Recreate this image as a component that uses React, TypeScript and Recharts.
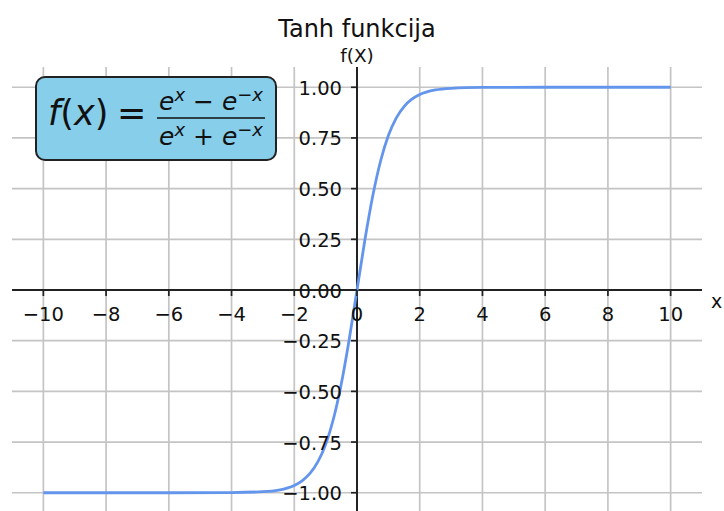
import React from 'react';
import { LineChart, Line, XAxis, YAxis, ReferenceLine, ReferenceDot } from 'recharts';

const xValues = [-10, -8, -6, -4, -3, -2.5, -2, -1.75, -1.5, -1.25, -1, -0.75, -0.5, -0.25, 0, 0.25, 0.5, 0.75, 1, 1.25, 1.5, 1.75, 2, 2.5, 3, 4, 6, 8, 10];
const yValues = [-1.0, -1.0, -1.0, -0.999, -0.995, -0.987, -0.964, -0.941, -0.905, -0.848, -0.762, -0.635, -0.462, -0.245, 0, 0.245, 0.462, 0.635, 0.762, 0.848, 0.905, 0.941, 0.964, 0.987, 0.995, 0.999, 1.0, 1.0, 1.0];

const xTicks = [-10, -8, -6, -4, -2, 0, 2, 4, 6, 8, 10];
const xTickLabels = ['−10', '−8', '−6', '−4', '−2', '0', '2', '4', '6', '8', '10'];
const yTicks = [-1, -0.75, -0.5, -0.25, 0, 0.25, 0.5, 0.75, 1];
const yTickLabels = ['−1.00', '−0.75', '−0.50', '−0.25', '0.00', '0.25', '0.50', '0.75', '1.00'];

const titleText = 'Tanh funkcija';
const yAxisLabel = 'f(X)';
const xAxisLabel = 'x';

const data = xValues.map((x, i) => ({ x, y: yValues[i] }));

const FONT = '"DejaVu Sans", sans-serif';
const TEXT_COLOR = '#111';
const SPINE = '#222';
const GRID = '#c4c4c4';

export default function App() {
  return (
    <div style={{ position: 'absolute', left: 0, top: 0, width: 724, height: 511, overflow: 'hidden', background: '#fff' }}>
      <LineChart width={724} height={520} data={data} margin={{ top: 67, right: 22, bottom: 7, left: 12 }}>
        <XAxis type="number" dataKey="x" domain={[-11, 11]} ticks={xTicks} hide />
        <YAxis type="number" domain={[-1.1, 1.1]} ticks={yTicks} hide />
        {xTicks.map((v) => (
          <ReferenceLine key={'gx' + v} x={v} stroke={GRID} strokeWidth={1.7} />
        ))}
        {yTicks.map((v) => (
          <ReferenceLine key={'gy' + v} y={v} stroke={GRID} strokeWidth={1.7} />
        ))}
        <ReferenceLine y={0} stroke={SPINE} strokeWidth={2} />
        <ReferenceLine x={0} stroke={SPINE} strokeWidth={2} />
        {xTicks.map((v, i) => (
          <ReferenceDot
            key={'xt' + v}
            x={v}
            y={0}
            r={0}
            shape={(p: any) => (
              <g>
                <line x1={p.cx} x2={p.cx} y1={p.cy} y2={p.cy + 6} stroke={SPINE} strokeWidth={1.7} />
                <text x={p.cx} y={p.cy + 31} textAnchor="middle" fontFamily={FONT} fontSize={19.5} fill={TEXT_COLOR}>
                  {xTickLabels[i]}
                </text>
              </g>
            )}
          />
        ))}
        {yTicks.map((v, i) => (
          <ReferenceDot
            key={'yt' + v}
            x={0}
            y={v}
            r={0}
            shape={(p: any) => (
              <g>
                <line x1={p.cx - 6} x2={p.cx} y1={p.cy} y2={p.cy} stroke={SPINE} strokeWidth={1.7} />
                <text x={p.cx - 15} y={p.cy + 7.5} textAnchor="end" fontFamily={FONT} fontSize={19.5} fill={TEXT_COLOR}>
                  {yTickLabels[i]}
                </text>
              </g>
            )}
          />
        ))}
        <ReferenceDot
          x={0}
          y={1.1}
          r={0}
          shape={(p: any) => (
            <text x={p.cx} y={p.cy - 5} textAnchor="middle" fontFamily={FONT} fontSize={18.5} fill={TEXT_COLOR}>
              {yAxisLabel}
            </text>
          )}
        />
        <ReferenceDot
          x={11}
          y={0}
          r={0}
          shape={(p: any) => (
            <text x={p.cx + 9} y={p.cy + 18} textAnchor="start" fontFamily={FONT} fontSize={19} fill={TEXT_COLOR}>
              {xAxisLabel}
            </text>
          )}
        />
        <Line type="monotone" dataKey="y" stroke="#6495ED" strokeWidth={2.8} dot={false} isAnimationActive={false} />
      </LineChart>
      <svg width={724} height={511} style={{ position: 'absolute', left: 0, top: 0, pointerEvents: 'none' }}>
        <text x={357} y={37} textAnchor="middle" fontFamily={FONT} fontSize={24} fill={TEXT_COLOR}>
          {titleText}
        </text>
        <rect x={36} y={77} width={240} height={83} rx={9} ry={9} fill="#87CEEB" stroke="#222" strokeWidth={2} />
        <text x={48} y={125} fontFamily={FONT} fontSize={35} fill="#111">
          <tspan fontStyle="italic">f</tspan>
          <tspan>(</tspan>
          <tspan fontStyle="italic">x</tspan>
          <tspan>)</tspan>
        </text>
        <text x={117} y={125} fontFamily={FONT} fontSize={35} fill="#111">=</text>
        <line x1={157} x2={265} y1={118} y2={118} stroke="#111" strokeWidth={1.6} />
        <text x={211} y={110} textAnchor="middle" fontFamily={FONT} fontSize={25} fill="#111">
          <tspan fontStyle="italic">e</tspan>
          <tspan fontStyle="italic" fontSize={18} dy={-9}>x</tspan>
          <tspan dy={9}> − </tspan>
          <tspan fontStyle="italic">e</tspan>
          <tspan fontSize={18} dy={-9}>−</tspan>
          <tspan fontStyle="italic" fontSize={18}>x</tspan>
        </text>
        <text x={211} y={145} textAnchor="middle" fontFamily={FONT} fontSize={25} fill="#111">
          <tspan fontStyle="italic">e</tspan>
          <tspan fontStyle="italic" fontSize={18} dy={-9}>x</tspan>
          <tspan dy={9}> + </tspan>
          <tspan fontStyle="italic">e</tspan>
          <tspan fontSize={18} dy={-9}>−</tspan>
          <tspan fontStyle="italic" fontSize={18}>x</tspan>
        </text>
      </svg>
    </div>
  );
}
